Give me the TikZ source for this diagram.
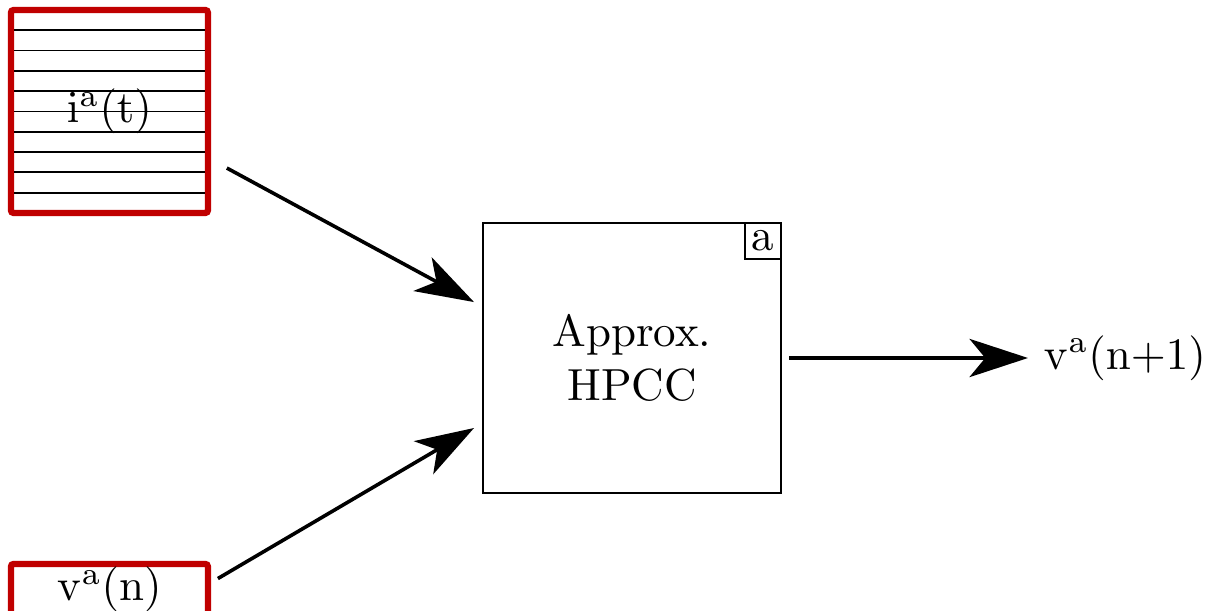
\documentclass[tikz,border=0pt]{standalone}
\usetikzlibrary{positioning,calc,arrows.meta}
\definecolor{boxred}{RGB}{192,0,0}
\tikzset{
  sigbox/.style={draw=boxred,line width=1.4pt,rounded corners=0.6pt,outer sep=0pt,inner sep=0pt,minimum width=1.539cm},
  arr/.style={thick,-{Stealth[length=13pt,width=8.5pt,inset=3.5pt]}},
}
\begin{document}
\begin{tikzpicture}
    \useasboundingbox (0,0) rectangle (9.477,4.766);

    %% input boxes
    \node[sigbox,minimum height=1.586cm] (iat) at (0.855,3.895) {$\mathrm{i^a(t)}$};
    \foreach \k in {1,...,9}
      \draw[shorten <=0.7pt,shorten >=0.7pt] ($(iat.north west)!\k/10!(iat.south west)$) -- ($(iat.north east)!\k/10!(iat.south east)$);
    \node[sigbox,minimum height=0.4cm] (vn) at (0.855,0.16) {$\mathrm{v^a(n)}$};

    %% block
    \node[draw,minimum width=2.328cm,minimum height=2.109cm,align=center,outer sep=0pt] (hpcc) at (4.9375,1.969) {Approx.\\HPCC};
    \node[draw,anchor=north east,minimum size=0.281cm,inner sep=0pt,outer sep=0pt] (tag) at (hpcc.north east) {a};

    %% output
    \node[right=1.93cm of hpcc] (vnext) {$\mathrm{v^a(n{+}1)}$};

    %% arrows
    \coordinate (iat-out) at ($(iat.east)+(0.148,-0.442)$);
    \coordinate (vn-out) at ($(vn.east)+(0.078,0.086)$);
    \coordinate (hpcc-in1) at ($(hpcc.west)+(-0.07,0.437)$);
    \coordinate (hpcc-in2) at ($(hpcc.west)+(-0.07,-0.547)$);
    \draw[arr] (iat-out) -- (hpcc-in1);
    \draw[arr] (vn-out) -- (hpcc-in2);
    \draw[arr,shorten <=1.8pt] (hpcc) -- (vnext);
\end{tikzpicture}
\end{document}
